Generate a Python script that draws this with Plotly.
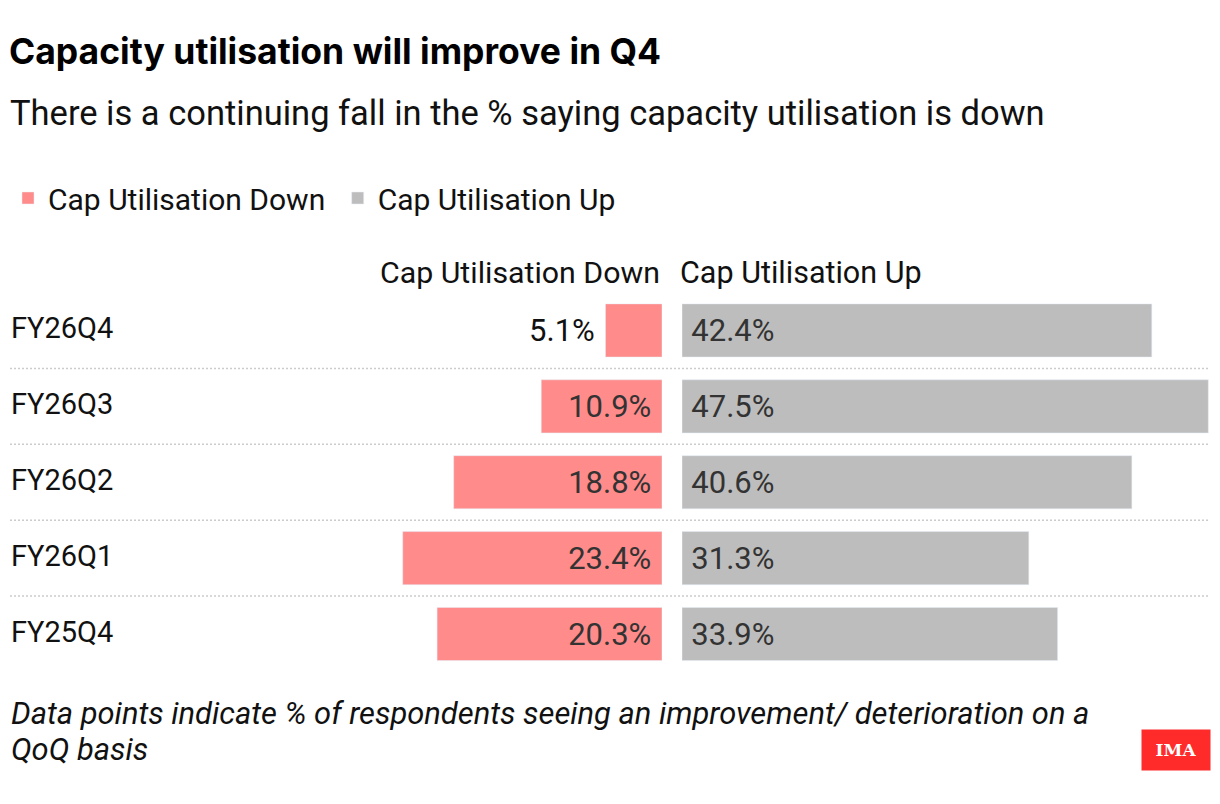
import plotly.graph_objects as go

# data
quarters = ["FY26Q4", "FY26Q3", "FY26Q2", "FY26Q1", "FY25Q4"]
cap_down = [5.1, 10.9, 18.8, 23.4, 20.3]
cap_up = [42.4, 47.5, 40.6, 31.3, 33.9]

DOWN_COLOR = "#ff8b8b"
UP_COLOR = "#bdbdbd"
FONT = "Roboto"
NBSP = "\u00a0"
# the page body has an 8px margin, so the figure is 8px smaller each way
OFF = 8
W, H = 1220 - OFF, 804 - OFF
PX_PER_UNIT = 11.08


def fx(px):
    return max(0.0, (px - OFF) / W)


def fy(px):
    return 1 - (px - OFF) / H


left_dom = [fx(382), fx(662)]
right_dom = [fx(682), 1.0]

fig = go.Figure()

fig.add_trace(go.Bar(
    y=quarters, x=cap_down, orientation="h",
    name="Cap Utilisation Down" + NBSP, marker_color=DOWN_COLOR,
    text=[f"{v}%{NBSP}" for v in cap_down], textposition="auto",
    insidetextanchor="start",
    insidetextfont=dict(color="#333333", size=31, family=FONT),
    outsidetextfont=dict(color="#111111", size=31, family=FONT),
    cliponaxis=False, xaxis="x", yaxis="y", hoverinfo="skip",
))
fig.add_trace(go.Bar(
    y=quarters, x=cap_up, orientation="h",
    name="Cap Utilisation Up", marker_color=UP_COLOR,
    text=[f"\u2009{v}%" for v in cap_up], textposition="auto",
    insidetextanchor="start",
    insidetextfont=dict(color="#333333", size=31, family=FONT),
    outsidetextfont=dict(color="#111111", size=31, family=FONT),
    cliponaxis=False, xaxis="x2", yaxis="y", hoverinfo="skip",
))

axis_off = dict(showgrid=False, zeroline=False, showticklabels=False,
                showline=False, ticks="", fixedrange=True)

fig.update_layout(
    width=W, height=H,
    margin=dict(l=0, r=0, t=0, b=0),
    paper_bgcolor="white", plot_bgcolor="white",
    font=dict(family=FONT, color="#111111"),
    bargap=0.3,
    xaxis=dict(domain=left_dom, anchor="y",
               range=[(left_dom[1] - left_dom[0]) * W / PX_PER_UNIT, 0], **axis_off),
    xaxis2=dict(domain=right_dom, anchor="y",
                range=[0, (right_dom[1] - right_dom[0]) * W / PX_PER_UNIT], **axis_off),
    yaxis=dict(domain=[fy(672), fy(292.5)], range=[len(quarters) - 0.5, -0.5],
               type="category", categoryarray=quarters, **axis_off),
    title=dict(text="<b>Capacity utilisation will improve in Q4</b>",
               x=fx(9), xanchor="left", y=fy(52), yanchor="middle",
               font=dict(size=35.5, color="#000000", family="Inter")),
    # x must stay >= 0 or plotly halves the legend width and wraps it
    legend=dict(orientation="h", x=0, xanchor="left", y=fy(198), yanchor="middle",
                font=dict(size=30, color="#111111", family=FONT),
                itemclick=False, itemdoubleclick=False, traceorder="normal"),
    showlegend=True,
)

annotations = [
    dict(text="There is a continuing fall in the % saying capacity utilisation is down",
         x=fx(8), y=fy(113), xanchor="left", yanchor="middle",
         font=dict(size=34.5, color="#111111")),
    dict(text="Cap Utilisation Down", x=fx(662), y=fy(272), xanchor="right",
         yanchor="middle", font=dict(size=30.3, color="#111111")),
    dict(text="Cap Utilisation Up", x=fx(678), y=fy(272), xanchor="left",
         yanchor="middle", font=dict(size=30.5, color="#111111")),
    dict(text="<i>Data points indicate % of respondents seeing an improvement/ "
              "deterioration on a</i>",
         x=fx(9), y=fy(713), xanchor="left", yanchor="middle", align="left",
         font=dict(size=30.9, color="#111111")),
    dict(text="<i>QoQ basis</i>",
         x=fx(9), y=fy(749), xanchor="left", yanchor="middle", align="left",
         font=dict(size=30.9, color="#111111")),
    dict(text="<b>IMA</b>", x=fx(1176), y=fy(750), xanchor="center", yanchor="middle",
         width=66, height=38, bgcolor="#ff2b2b",
         font=dict(size=17, color="white", family="DejaVu Serif")),
]
for q in quarters:
    annotations.append(dict(text=q, x=fx(9), xref="paper", y=q, yref="y",
                            xanchor="left", yanchor="middle", yshift=2,
                            font=dict(size=29, color="#111111")))
for a in annotations:
    a.setdefault("xref", "paper")
    a.setdefault("yref", "paper")
    a["showarrow"] = False
fig.update_layout(annotations=annotations)

# dotted separators between rows
for i in range(len(quarters) - 1):
    fig.add_shape(type="line", xref="paper", yref="y", x0=fx(10), x1=fx(1208),
                  y0=i + 0.5, y1=i + 0.5,
                  line=dict(color="#cccccc", width=1.5, dash="2px,2px"))

fig.write_html("out.html")
